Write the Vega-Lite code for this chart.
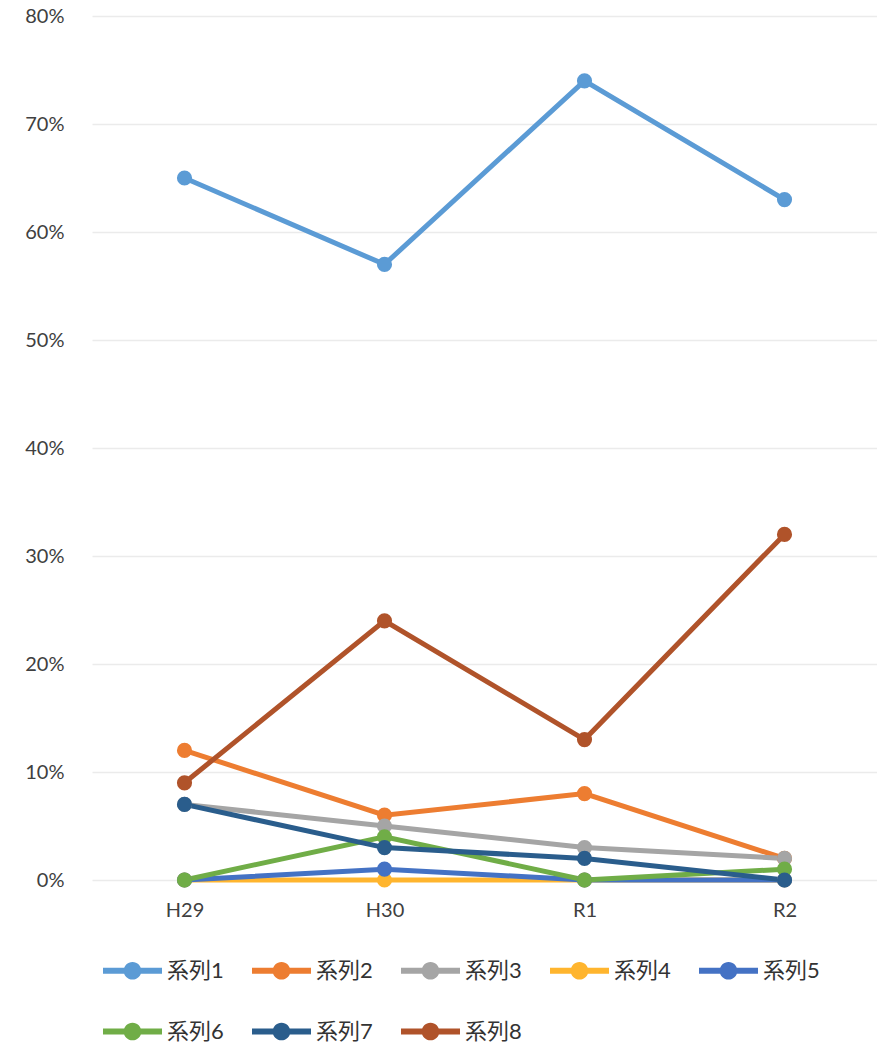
{
  "$schema": "https://vega.github.io/schema/vega-lite/v6.json",
  "autosize": {"type": "none"},
  "width": 785,
  "height": 864,
  "padding": {"left": 92, "top": 16, "right": 0, "bottom": 166},
  "background": "white",
  "data": {"values": [
    {"year": "H29", "series": "系列1", "value": 0.65},
    {"year": "H30", "series": "系列1", "value": 0.57},
    {"year": "R1", "series": "系列1", "value": 0.74},
    {"year": "R2", "series": "系列1", "value": 0.63},
    {"year": "H29", "series": "系列2", "value": 0.12},
    {"year": "H30", "series": "系列2", "value": 0.06},
    {"year": "R1", "series": "系列2", "value": 0.08},
    {"year": "R2", "series": "系列2", "value": 0.02},
    {"year": "H29", "series": "系列3", "value": 0.07},
    {"year": "H30", "series": "系列3", "value": 0.05},
    {"year": "R1", "series": "系列3", "value": 0.03},
    {"year": "R2", "series": "系列3", "value": 0.02},
    {"year": "H29", "series": "系列4", "value": 0.0},
    {"year": "H30", "series": "系列4", "value": 0.0},
    {"year": "R1", "series": "系列4", "value": 0.0},
    {"year": "R2", "series": "系列4", "value": 0.0},
    {"year": "H29", "series": "系列5", "value": 0.0},
    {"year": "H30", "series": "系列5", "value": 0.01},
    {"year": "R1", "series": "系列5", "value": 0.0},
    {"year": "R2", "series": "系列5", "value": 0.0},
    {"year": "H29", "series": "系列6", "value": 0.0},
    {"year": "H30", "series": "系列6", "value": 0.04},
    {"year": "R1", "series": "系列6", "value": 0.0},
    {"year": "R2", "series": "系列6", "value": 0.01},
    {"year": "H29", "series": "系列7", "value": 0.07},
    {"year": "H30", "series": "系列7", "value": 0.03},
    {"year": "R1", "series": "系列7", "value": 0.02},
    {"year": "R2", "series": "系列7", "value": 0.0},
    {"year": "H29", "series": "系列8", "value": 0.09},
    {"year": "H30", "series": "系列8", "value": 0.24},
    {"year": "R1", "series": "系列8", "value": 0.13},
    {"year": "R2", "series": "系列8", "value": 0.32}
  ]},
  "mark": {"type": "line", "strokeWidth": 5, "point": {"size": 230, "filled": true, "opacity": 1}},
  "encoding": {
    "x": {
      "field": "year", "type": "ordinal", "sort": ["H29", "H30", "R1", "R2"],
      "scale": {"type": "point", "padding": 0.4625},
      "axis": {"title": null, "labelAngle": 0, "domain": false, "ticks": false, "grid": false,
        "labelPadding": 20, "labelFontSize": 20, "labelColor": "#404040", "labelFont": "Lato"}
    },
    "y": {
      "field": "value", "type": "quantitative",
      "scale": {"domain": [0, 0.8]},
      "axis": {"title": null, "format": ".0%", "values": [0, 0.1, 0.2, 0.3, 0.4, 0.5, 0.6, 0.7, 0.8],
        "domain": false, "ticks": false, "labelPadding": 28, "labelFontSize": 20, "labelColor": "#404040",
        "labelFont": "Lato", "gridColor": "#ebebeb", "gridWidth": 1.5}
    },
    "color": {
      "field": "series", "type": "nominal",
      "scale": {"domain": ["系列1", "系列2", "系列3", "系列4", "系列5", "系列6", "系列7", "系列8"],
        "range": ["#5B9BD5", "#ED7D31", "#A5A5A5", "#FFB52E", "#4472C4", "#70AD47", "#2A5D8C", "#B0532A"]},
      "legend": {
        "title": null, "orient": "none", "legendX": 11, "legendY": 925, "direction": "horizontal",
        "columns": 5, "padding": 0, "columnPadding": 28, "rowPadding": 20,
        "symbolType": "M -1 -0.1 H 1 V 0.1 H -1 Z M 0.3 0 A 0.3 0.3 0 1 1 -0.3 0 A 0.3 0.3 0 1 1 0.3 0 Z",
        "symbolSize": 3481, "symbolStrokeWidth": 0, "labelFontSize": 22, "labelColor": "#333333",
        "labelFont": "Lato, Noto Sans CJK JP", "labelOffset": 5,
        "encode": {"symbols": {"update": {"fill": {"scale": "color", "field": "value"}, "strokeWidth": {"value": 0}, "opacity": {"value": 1}}}}
      }
    }
  },
  "config": {"view": {"stroke": null}}
}
